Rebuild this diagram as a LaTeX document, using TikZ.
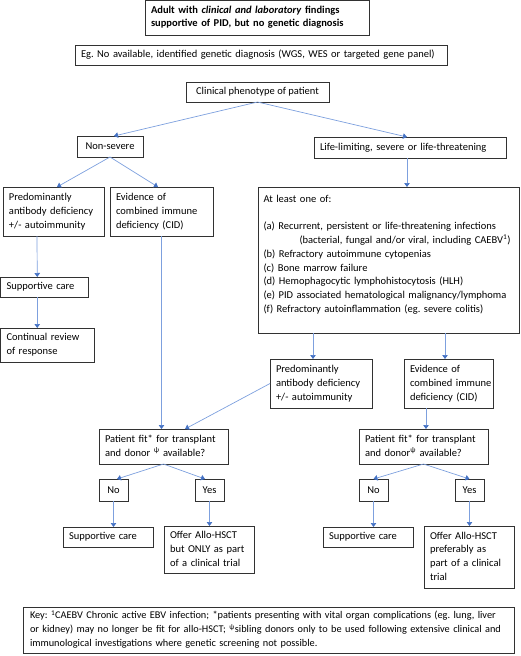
\documentclass[tikz,border=0pt]{standalone}
\usepackage{fontspec}
\setmainfont{Carlito}
\usetikzlibrary{arrows.meta,calc}
\definecolor{lineblue}{RGB}{125,160,222}
\definecolor{tipblue}{RGB}{68,114,196}
\definecolor{boxgray}{RGB}{50,50,50}
\newcommand\lns[1]{\begin{tabular}{@{}l@{}}#1\end{tabular}}
\frenchspacing
\begin{document}
\begin{tikzpicture}[x=1pt,y=-1pt,
  bx/.style={draw=boxgray, line width=0.8pt, inner xsep=6pt, inner ysep=0pt, outer sep=0pt,
    font=\fontsize{10.5}{13.8}\selectfont, anchor=north west, align=left},
  cbx/.style={bx, align=center},
  arr/.style={draw=lineblue, line width=0.7pt, -{Triangle[length=4pt,width=5.5pt,color=tipblue]}}]
\useasboundingbox (0,0) rectangle (520,656);
% boxes
\node[bx, text width=212pt, minimum height=34.5pt, font=\fontsize{10.5}{13}\selectfont\bfseries] (top) at (145,0.5)
  {\lns{Adult with \textit{clinical and laboratory} findings\\supportive of PID, but no genetic diagnosis}};
\node[bx, text width=360pt, minimum height=20pt] (eg) at (75,45)
  {\lns{Eg. No available, identified genetic diagnosis (WGS, WES or targeted gene panel)}};
\node[cbx, minimum width=143pt, minimum height=20pt] (clin) at (186,82) {Clinical phenotype of patient};
\node[cbx, minimum width=66pt, minimum height=21pt] (nons) at (77,136) {Non-severe};
\node[bx, text width=180pt, minimum height=21pt] (ll) at (314,137) {\lns{Life-limiting, severe or life-threatening}};
\node[bx, text width=89pt, minimum height=49pt] (pl) at (3,187)
  {\lns{Predominantly\\antibody deficiency\\+/- autoimmunity}};
\node[bx, text width=91pt, minimum height=49pt] (ecl) at (110,187)
  {\lns{Evidence of\\combined immune\\deficiency (CID)}};
\node[bx, inner xsep=5.5pt, text width=250pt, minimum height=146pt] (big) at (258,187)
  {\lns{At least one of:\\[13.8pt]
   (a) Recurrent, persistent or life-threatening infections\\
   \hspace*{36pt}(bacterial, fungal and/or viral, including CAEBV\textsuperscript{1})\\
   (b) Refractory autoimmune cytopenias\\
   (c) Bone marrow failure\\
   (d) Hemophagocytic lymphohistocytosis (HLH)\\
   (e) PID associated hematological malignancy/lymphoma\\
   (f) Refractory autoinflammation (eg. severe colitis)\\[-3pt]
   \mbox{}}};
\node[bx, text width=75.5pt, minimum height=20pt] (sc1) at (0.5,277) {\lns{Supportive care}};
\node[bx, text width=81.5pt, minimum height=34pt] (cr) at (0.5,328) {\lns{Continual review\\of response}};
\node[bx, text width=90pt, minimum height=49pt] (pr) at (270,359)
  {\lns{Predominantly\\antibody deficiency\\+/- autoimmunity}};
\node[bx, text width=77pt, minimum height=49pt] (er) at (404,359)
  {\lns{Evidence of\\combined immune\\deficiency (CID)}};
\node[bx, text width=117pt, minimum height=35pt] (pfl) at (99,429)
  {\lns{Patient fit* for transplant\\and donor \textsuperscript{ψ} available?}};
\node[bx, text width=117pt, minimum height=35pt] (pfr) at (359,429)
  {\lns{Patient fit* for transplant\\and donor\textsuperscript{ψ} available?}};
\node[cbx, minimum width=29pt, minimum height=22pt] (nol) at (99,479) {No};
\node[cbx, minimum width=29pt, minimum height=22pt] (yesl) at (195,479) {Yes};
\node[cbx, minimum width=29pt, minimum height=22pt] (nor) at (359,479) {No};
\node[cbx, minimum width=29pt, minimum height=22pt] (yesr) at (455,479) {Yes};
\node[bx, text width=78pt, minimum height=20pt] (sc2) at (63,527) {\lns{Supportive care}};
\node[bx, text width=78pt, minimum height=47pt] (off1) at (164,526)
  {\lns{Offer Allo-HSCT\\but ONLY as part\\of a clinical trial}};
\node[bx, text width=78pt, minimum height=20pt] (sc3) at (323,527) {\lns{Supportive care}};
\node[bx, text width=78pt, minimum height=62pt] (off2) at (424,526)
  {\lns{Offer Allo-HSCT\\preferably as\\part of a clinical\\trial}};
\node[bx, inner xsep=7pt, text width=477pt, minimum height=46pt, font=\fontsize{10.3}{14}\selectfont] (key) at (23,607)
  {\lns{Key: \textsuperscript{1}CAEBV Chronic active EBV infection; *patients presenting with vital organ complications (eg. lung, liver\\
   or kidney) may no longer be fit for allo-HSCT; \textsuperscript{ψ}sibling donors only to be used following extensive clinical and\\
   immunological investigations where genetic screening not possible.}};
% connectors
\draw[arr] (clin.south) -- ([xshift=4pt]nons.north);
\draw[arr] (clin.south) -- ([xshift=-3pt]ll.north);
\draw[arr] (nons.south) -- ([xshift=3.5pt]pl.north);
\draw[arr] (nons.south) -- ([xshift=-3.5pt]ecl.north);
\draw[arr] ([xshift=-16.5pt]pl.south) -- ([xshift=-7pt]sc1.north);
\draw[arr] ([xshift=-7pt]sc1.south) -- ([xshift=-10pt]cr.north);
\draw[arr] (ecl.south) -- (ecl.south |- pfl.north);
\draw[arr] (pr.west) -- ([xshift=21.5pt]pfl.north);
\draw[arr] ([xshift=-3pt]ll.south) -- ([xshift=-3pt]ll.south |- big.north);
\draw[arr] ([xshift=-8pt]pr.north |- big.south) -- ([xshift=-8pt]pr.north);
\draw[arr] ([xshift=-3.5pt]er.north |- big.south) -- ([xshift=-3.5pt]er.north);
\draw[arr] ([xshift=2.5pt]pfr.north |- er.south) -- ([xshift=2.5pt]pfr.north);
\draw[arr] (pfl.south) -- ([xshift=3.5pt]nol.north);
\draw[arr] (pfl.south) -- ([xshift=-4.5pt]yesl.north);
\draw[arr] (pfr.south) -- (nor.north);
\draw[arr] (pfr.south) -- (yesr.north);
\draw[arr] (nol.south) -- (nol.south |- sc2.north);
\draw[arr] (yesl.south) -- (yesl.south |- off1.north);
\draw[arr] (nor.south) -- (nor.south |- sc3.north);
\draw[arr] (yesr.south) -- (yesr.south |- off2.north);
\end{tikzpicture}
\end{document}
